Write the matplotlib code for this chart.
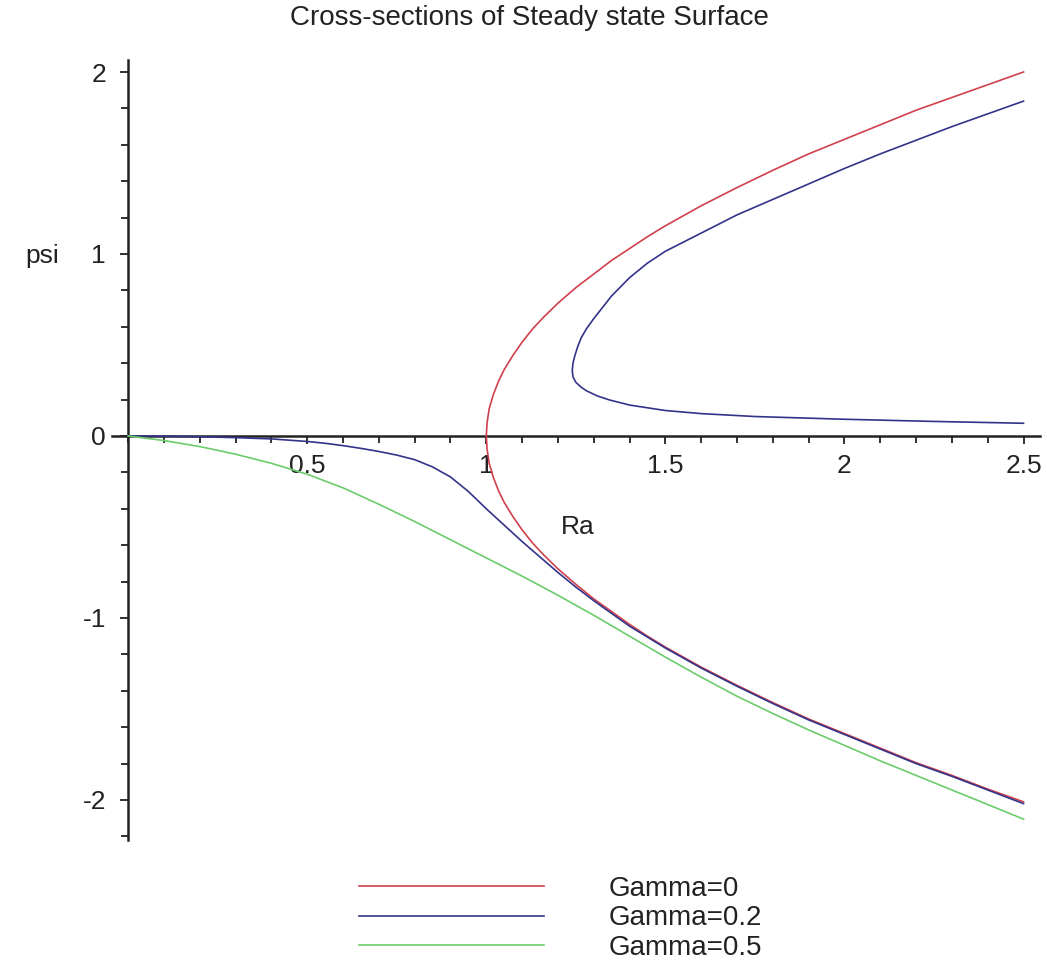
import matplotlib
matplotlib.use('Agg')
import matplotlib.pyplot as plt
from matplotlib.ticker import MultipleLocator

plt.rcParams['font.family'] = ['Liberation Sans', 'DejaVu Sans']

# Gamma=0: upper branch from Ra=2.5 down to the bifurcation point, then lower branch
ra_g0 = [2.5, 2.4, 2.3, 2.2, 2.1, 2.0, 1.9, 1.8, 1.7, 1.6, 1.5, 1.45, 1.4, 1.35, 1.3, 1.25, 1.2, 1.16, 1.13,
         1.1, 1.075, 1.05, 1.035, 1.02, 1.008, 1.002, 1.0,
         1.002, 1.008, 1.02, 1.035, 1.05, 1.075, 1.1, 1.13, 1.16, 1.2, 1.25, 1.3, 1.35, 1.4, 1.45, 1.5,
         1.6, 1.7, 1.8, 1.9, 2.0, 2.1, 2.2, 2.3, 2.4, 2.5]
psi_g0 = [2.00, 1.93, 1.86, 1.79, 1.71, 1.63, 1.55, 1.46, 1.365, 1.265, 1.155, 1.095, 1.03, 0.965, 0.89, 0.815,
          0.73, 0.653, 0.59, 0.516, 0.445, 0.365, 0.305, 0.23, 0.15, 0.07, 0.0,
          -0.07, -0.15, -0.23, -0.305, -0.365, -0.445, -0.516, -0.59, -0.653, -0.73, -0.815, -0.895, -0.965,
          -1.035, -1.10, -1.16, -1.27, -1.37, -1.465, -1.555, -1.635, -1.715, -1.795, -1.865, -1.94, -2.01]

# Gamma=0.2: continuous lower branch from the origin
ra_g02_low = [0.0, 0.1, 0.2, 0.3, 0.4, 0.5, 0.55, 0.6, 0.65, 0.7, 0.75, 0.8, 0.85, 0.9, 0.95, 1.0, 1.05,
              1.1, 1.15, 1.2, 1.25, 1.3, 1.35, 1.4, 1.5, 1.6, 1.7, 1.8, 1.9, 2.0, 2.1, 2.2, 2.3, 2.4, 2.5]
psi_g02_low = [0.0, -0.001, -0.004, -0.009, -0.016, -0.03, -0.04, -0.053, -0.068, -0.085, -0.105, -0.13,
               -0.17, -0.225, -0.305, -0.40, -0.49, -0.58, -0.665, -0.75, -0.83, -0.905, -0.975, -1.045,
               -1.165, -1.275, -1.375, -1.47, -1.56, -1.64, -1.72, -1.80, -1.87, -1.945, -2.02]

# Gamma=0.2: separate upper branch with a fold near Ra=1.24
ra_g02_up = [2.5, 2.4, 2.3, 2.2, 2.1, 2.0, 1.9, 1.8, 1.7, 1.6, 1.5, 1.45, 1.4, 1.35, 1.3, 1.28, 1.265,
             1.255, 1.247, 1.242, 1.24, 1.242, 1.25, 1.265, 1.28, 1.31, 1.344, 1.4, 1.5, 1.6, 1.75, 2.0,
             2.25, 2.5]
psi_g02_up = [1.84, 1.77, 1.70, 1.625, 1.55, 1.47, 1.385, 1.30, 1.215, 1.115, 1.015, 0.95, 0.87, 0.77, 0.645,
              0.59, 0.54, 0.49, 0.44, 0.40, 0.36, 0.325, 0.295, 0.268, 0.248, 0.22, 0.198, 0.17, 0.14,
              0.123, 0.107, 0.092, 0.08, 0.07]

# Gamma=0.5
ra_g05 = [0.0, 0.1, 0.2, 0.3, 0.4, 0.5, 0.6, 0.7, 0.8, 0.9, 1.0, 1.1, 1.2, 1.3, 1.4, 1.5, 1.6, 1.7, 1.8,
          1.9, 2.0, 2.1, 2.2, 2.3, 2.4, 2.5]
psi_g05 = [0.0, -0.025, -0.058, -0.10, -0.15, -0.21, -0.285, -0.375, -0.47, -0.57, -0.67, -0.77, -0.875,
           -0.985, -1.10, -1.215, -1.325, -1.43, -1.525, -1.615, -1.70, -1.785, -1.865, -1.945, -2.025,
           -2.105]

labels = ['Gamma=0', 'Gamma=0.2', 'Gamma=0.5']
colors = ['#d0404c', '#33338a', '#6ccc6c']

fig = plt.figure(figsize=(10.47, 9.66), dpi=100)
ax = fig.add_axes([0.107, 0.1304, 0.886, 0.8075])

l0, = ax.plot(ra_g0, psi_g0, color=colors[0], lw=1.2)
l1, = ax.plot(ra_g02_low, psi_g02_low, color=colors[1], lw=1.2)
ax.plot(ra_g02_up, psi_g02_up, color=colors[1], lw=1.2)
l2, = ax.plot(ra_g05, psi_g05, color=colors[2], lw=1.2)

ax.set_xlim(-0.045, 2.545)
ax.set_ylim(-2.22, 2.066)

# Maple style axes crossing at the origin
ax.spines['left'].set_position(('data', 0))
ax.spines['bottom'].set_position(('data', 0))
ax.spines['top'].set_visible(False)
ax.spines['right'].set_visible(False)
for s in ('left', 'bottom'):
    ax.spines[s].set_linewidth(1.8)
    ax.spines[s].set_color('#222222')
    ax.spines[s].set_zorder(1)

ax.set_xticks([0.5, 1, 1.5, 2, 2.5])
ax.set_xticklabels(['0.5', '1', '1.5', '2', '2.5'])
ax.xaxis.set_minor_locator(MultipleLocator(0.1))
ax.set_yticks([-2, -1, 0, 1, 2])
ax.set_yticklabels(['-2', '-1', '0', '1', '2'])
ax.yaxis.set_minor_locator(MultipleLocator(0.2))
ax.tick_params(which='both', direction='out', color='#222222', width=1.3)
ax.tick_params(which='major', length=6)
ax.tick_params(which='minor', length=5)
ax.tick_params(axis='x', which='major', labelsize=19, pad=7, labelcolor='#222222')
ax.tick_params(axis='y', which='major', labelsize=19, pad=10, labelcolor='#222222')

ax.text(1.255, -0.5, 'Ra', fontsize=19, ha='center', va='center', color='#222222')
fig.text(42 / 1047, 1 - 256 / 966, 'psi', fontsize=19, ha='center', va='center', color='#222222')
fig.text(0.506, 1 - 18 / 966, 'Cross-sections of Steady state Surface', fontsize=20,
         ha='center', va='center', color='#222222')

fig.legend([l0, l1, l2], labels, loc='upper left', bbox_to_anchor=(359 / 1047, 1 - 876 / 966),
           frameon=False, fontsize=20, handlelength=6.65, handletextpad=2.35, labelspacing=0.12,
           borderpad=0, borderaxespad=0, labelcolor='#222222')

fig.savefig('out.png', dpi=100)
